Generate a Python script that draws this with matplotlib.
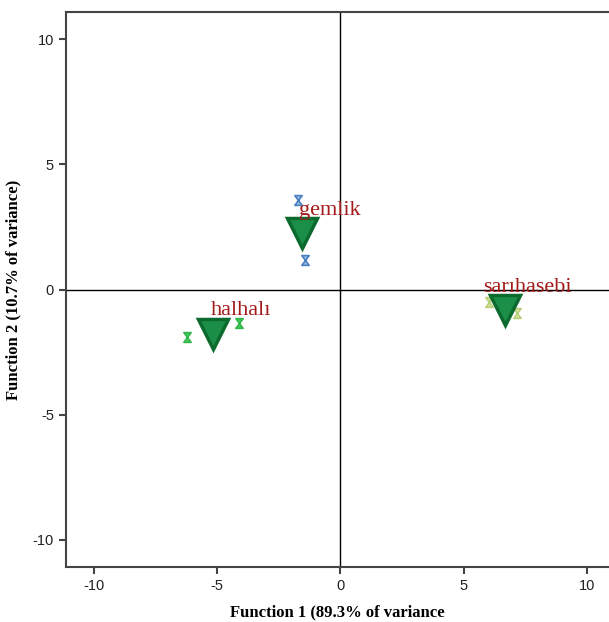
import numpy as np
import matplotlib.pyplot as plt
from matplotlib.path import Path

plt.rcParams['axes.unicode_minus'] = False

# group centroids
groups = ['gemlik', 'halhalı', 'sarıhasebi']
cent_x = [-1.54, -5.14, 6.68]
cent_y = [2.24, -1.76, -0.80]

# individual cases per group
case_x = [[-1.70, -1.42], [-6.23, -4.09], [6.03, 7.17]]
case_y = [[3.56, 1.20], [-1.88, -1.32], [-0.48, -0.92]]
case_face = ['#9fc3e8', '#3fcf5a', '#d9e6a6']
case_edge = ['#4a7fc0', '#35b64c', '#b8cf7a']

# label offsets (data units) from centroid
lab_dx = [-0.12, -0.12, -0.89]
lab_dy = [0.72, 0.76, 0.72]

fig = plt.figure(figsize=(6.09, 6.22), dpi=100)
ax = fig.add_axes([0.108, 0.088, 0.892, 0.893])

# hourglass marker
hourglass = Path([(-0.75, 1), (0.75, 1), (-0.75, -1), (0.75, -1), (-0.75, 1)],
                 [Path.MOVETO, Path.LINETO, Path.LINETO, Path.LINETO, Path.CLOSEPOLY])

ax.axhline(0, color='black', lw=1, zorder=1)
ax.axvline(0, color='black', lw=1, zorder=1)

for i, g in enumerate(groups):
    ax.plot(case_x[i], case_y[i], ls='none', marker=hourglass, markersize=7,
            markerfacecolor=case_face[i], markeredgecolor=case_edge[i],
            markeredgewidth=1.2, zorder=3)
    ax.plot(cent_x[i], cent_y[i], ls='none', marker='v', markersize=21,
            markerfacecolor='#1b8f47', markeredgecolor='#0d6a2e',
            markeredgewidth=2.5, zorder=4)
    ax.text(cent_x[i] + lab_dx[i], cent_y[i] + lab_dy[i], g, color='#a31a1a',
            fontsize=16, family='Liberation Serif', ha='left', va='baseline', zorder=5)

ax.set_xlim(-11.13, 10.9)
ax.set_ylim(-11.1, 11.1)
ax.set_xticks([-10, -5, 0, 5, 10])
ax.set_yticks([-10, -5, 0, 5, 10])
ax.tick_params(direction='out', length=5, width=1.5, color='#444444',
               labelsize=10.5, labelcolor='#222222')
for lbl in ax.get_xticklabels() + ax.get_yticklabels():
    lbl.set_family('Liberation Sans')
for s in ['left', 'bottom', 'top']:
    ax.spines[s].set_color('#444444')
    ax.spines[s].set_linewidth(1.5)
ax.spines['right'].set_visible(False)

ax.set_xlabel('Function 1 (89.3% of variance', family='Liberation Serif',
              fontweight='bold', fontsize=12, labelpad=8)
ax.set_ylabel('Function 2 (10.7% of variance)', family='Liberation Serif',
              fontweight='bold', fontsize=12, labelpad=8)

fig.savefig('out.png', dpi=100)
